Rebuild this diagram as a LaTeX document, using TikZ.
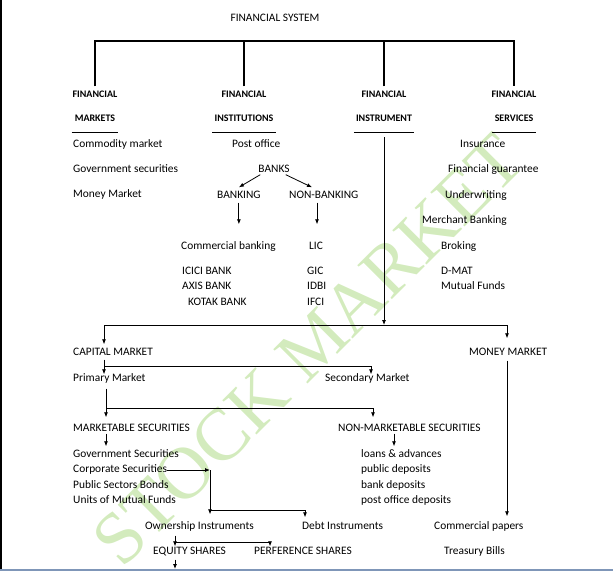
\documentclass[tikz,border=0pt]{standalone}
\usepackage{fontspec}
\setmainfont{Carlito}
\newfontfamily\wmfont{Liberation Serif}
\usepackage{tikz}
\usetikzlibrary{positioning,arrows.meta}
\definecolor{wmgreen}{HTML}{D3EBBD}
\definecolor{framebl}{HTML}{7F96B8}

\begin{document}
\begin{tikzpicture}[x=1pt, y=-1pt,
  item/.style={anchor=west, inner sep=0pt, text height=7pt, text depth=2pt, font=\fontsize{11.4}{13}\selectfont},
  head/.style={inner sep=0pt, text height=7pt, text depth=2pt, font=\fontsize{10}{11}\selectfont\bfseries},
  arr/.style={-{Latex[length=5pt,width=4pt]}, line width=0.8pt},
  link/.style={line width=0.8pt},
  bar/.style={line width=2.6pt},
  wmark/.style={inner sep=0pt, text=wmgreen, font=\wmfont\fontsize{74}{78}\selectfont}
]
\useasboundingbox (0,0) rectangle (613,571);
\draw[line width=1.5pt] (0.75,0) -- (0.75,569);
\draw[framebl, line width=2pt] (0,570) -- (613,570);

% watermark
\node[wmark, rotate=45] (wm) at (308,350) {STOCK MARKET};

\node[item, anchor=center] (title) at (275,19) {FINANCIAL SYSTEM};

% the four branches
\node[head] (fmkt) at (95,95) {FINANCIAL};
\node[head, below=15pt of fmkt] (mkts) {MARKETS};
\node[head] (finst) at (244,95) {FINANCIAL};
\node[head, below=15pt of finst] (insts) {INSTITUTIONS};
\node[head] (fintr) at (384,95) {FINANCIAL};
\node[head, below=15pt of fintr] (intrs) {INSTRUMENT};
\node[head] (fserv) at (514,95) {FINANCIAL};
\node[head, below=15pt of fserv] (servs) {SERVICES};

\coordinate (top) at (0,41);
\draw[bar] ([yshift=4pt]fmkt.north) -- (fmkt.north |- top) -- (fserv.north |- top) -- ([yshift=4pt]fserv.north);
\draw[bar] ([yshift=4pt]finst.north) -- (finst.north |- top);
\draw[bar] ([yshift=4pt]fintr.north) -- (fintr.north |- top);

\draw[link] ([xshift=-3pt,yshift=-8pt]mkts.south west) -- ([xshift=3pt,yshift=-8pt]mkts.south east);
\draw[link] ([xshift=-2pt,yshift=-8pt]insts.south west) -- ([xshift=2pt,yshift=-8pt]insts.south east);
\draw[link] ([xshift=-2pt,yshift=-8pt]intrs.south west) -- ([xshift=2pt,yshift=-8pt]intrs.south east);
\draw[link] ([xshift=-3pt,yshift=-8pt]servs.south west) -- ([xshift=3pt,yshift=-8pt]servs.south east);

% markets
\node[item] (comm) at (73,145) {Commodity market};
\node[item] (govs) at (73,170) {Government securities};
\node[item] (monm) at (73,195) {Money Market};

% institutions
\node[item] (post) at (232,145) {Post office};
\node[item, anchor=center] (banks) at (274,170) {BANKS};
\node[item] (bnk) at (217,196) {BANKING};
\node[item] (nbnk) at (289,196) {NON-BANKING};
\node[item] (comb) at (181,247) {Commercial banking};
\node[item] (lic) at (309,247) {LIC};
\node[item] (icici) at (182,272) {ICICI BANK};
\node[item] (axis) at (182,287) {AXIS BANK};
\node[item] (kotak) at (188,303) {KOTAK BANK};
\node[item] (gic) at (307,272) {GIC};
\node[item] (idbi) at (307,287) {IDBI};
\node[item] (ifci) at (307,303) {IFCI};

\draw[arr] ([xshift=2pt]banks.south west) -- ([yshift=4pt]bnk.north);
\draw[arr] ([xshift=-4pt]banks.south east) -- ([xshift=23pt,yshift=4pt]nbnk.north west);
\draw[arr, shorten <=2pt, shorten >=18pt] (bnk.south) -- (bnk.south |- comb.north);
\draw[arr, shorten <=2pt, shorten >=18pt] ([xshift=28pt]nbnk.south west) -- ([xshift=28pt]nbnk.south west |- lic.north);

% services
\node[item] (insu) at (460,145) {Insurance};
\node[item] (fgua) at (448,170) {Financial guarantee};
\node[item] (undw) at (445,196) {Underwriting};
\node[item] (merb) at (422,221) {Merchant Banking};
\node[item] (brok) at (441,247) {Broking};
\node[item] (dmat) at (441,272) {D-MAT};
\node[item] (mutf) at (441,287) {Mutual Funds};

% instruments
\node[item] (capm) at (73,353) {CAPITAL MARKET};
\node[item] (mnym) at (469,353) {MONEY MARKET};
\node[item] (prim) at (73,379) {Primary Market};
\node[item] (secm) at (325,379) {Secondary Market};
\node[item] (msec) at (73,429) {MARKETABLE SECURITIES};
\node[item] (nmsec) at (338,429) {NON-MARKETABLE SECURITIES};
\node[item] (govt) at (73,455) {Government Securities};
\node[item] (corp) at (73,470) {Corporate Securities};
\node[item] (psb) at (73,486) {Public Sectors Bonds};
\node[item] (umf) at (73,501) {Units of Mutual Funds};
\node[item] (loan) at (361,455) {loans \& advances};
\node[item] (pubd) at (361,470) {public deposits};
\node[item] (bnkd) at (361,486) {bank deposits};
\node[item] (pod) at (361,501) {post office deposits};
\node[item] (own) at (145,527) {Ownership Instruments};
\node[item] (debt) at (302,527) {Debt Instruments};
\node[item] (cpap) at (434,527) {Commercial papers};
\node[item] (eqs) at (153,552) {EQUITY SHARES};
\node[item] (prfs) at (254,552) {PERFERENCE SHARES};
\node[item] (tbil) at (444,552) {Treasury Bills};

\coordinate (split) at (384,325);
\coordinate (cj) at (104,366);
\coordinate (pj) at (106,408);
\coordinate (cs) at (210,470);
\coordinate (oj) at (210,510);
\coordinate (ej) at (175,542);
\coordinate (eqend) at (175,569);

\draw[arr, shorten <=13pt] (intrs.south) -- (intrs.south |- split);
\draw[arr, shorten >=4pt] (split) -| ([xshift=31pt]capm.north west);
\draw[arr, shorten >=10pt] (split) -| ([xshift=38pt]mnym.north west);
\draw[arr, shorten <=3pt, shorten >=6pt] ([xshift=38pt]mnym.south west) -- ([xshift=73pt]cpap.north west);

\draw[arr, shorten <=2pt] ([xshift=31pt]capm.south west) -- ([xshift=31pt]prim.north west);
\draw[arr] (cj) -| ([xshift=46pt]secm.north west);

\draw[arr, shorten <=5pt, shorten >=7pt] ([xshift=33pt]prim.south west) -- ([xshift=33pt]msec.north west);
\draw[arr, shorten >=7pt] (pj) -| ([xshift=35pt]nmsec.north west);

\draw[arr, shorten >=4pt] ([xshift=33pt]msec.south west) -- ([xshift=33pt]govt.north west);
\draw[arr, shorten >=4pt] ([xshift=56pt]nmsec.south west) -- ([xshift=33pt]loan.north west);

\draw[arr] (corp.east) -- (cs);
\draw[arr, shorten >=8pt] (cs) -- (cs |- own.north);
\draw[arr, shorten >=5pt] (oj) -| ([xshift=3pt]debt.north west);

\draw[arr, shorten <=4pt, shorten >=1pt] ([xshift=30pt]own.south west) -- ([xshift=22pt]eqs.north west);
\draw[arr, shorten >=1pt] (ej) -| ([xshift=16pt]prfs.north west);
\draw[arr, shorten <=3pt] ([xshift=22pt]eqs.south west) -- (eqend);
\end{tikzpicture}
\end{document}
